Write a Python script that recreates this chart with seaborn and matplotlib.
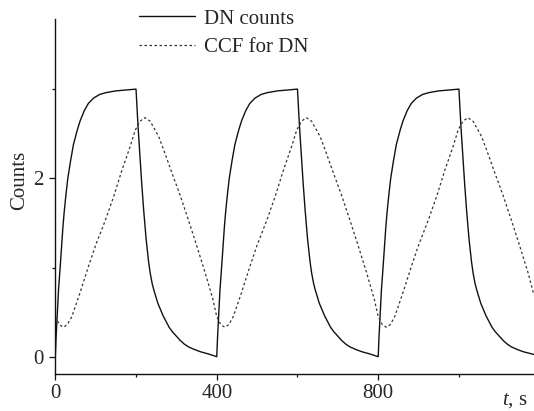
import matplotlib
matplotlib.use("Agg")
import matplotlib.pyplot as plt
import seaborn as sns
import pandas as pd
from matplotlib.ticker import FixedLocator

# DN counts (solid), three periods of 400 s
dn_t = [0, 2, 5, 8, 12, 16, 19, 22, 26, 31, 38, 45, 55, 62, 72, 82, 95, 110, 125, 150, 175,
        200, 205, 210, 214, 219, 225, 231, 235, 240, 244, 248, 254, 260, 267, 275, 282, 290, 300, 310, 320, 330, 345, 360, 380,
        400, 402, 405, 408, 412, 416, 419, 422, 426, 431, 438, 445, 455, 462, 472, 482, 495, 510, 525, 550, 575,
        600, 605, 610, 614, 619, 625, 631, 635, 640, 644, 648, 654, 660, 667, 675, 682, 690, 700, 710, 720, 730, 745, 760, 780,
        800, 802, 805, 808, 812, 816, 819, 822, 826, 831, 838, 845, 855, 862, 872, 882, 895, 910, 925, 950, 975,
        1000, 1005, 1010, 1014, 1019, 1025, 1031, 1035, 1040, 1044, 1048, 1054, 1060, 1067, 1075, 1082, 1090, 1100, 1110, 1120, 1130, 1145, 1160, 1186]
dn_v = [0.00, 0.22, 0.48, 0.75, 1.00, 1.27, 1.46, 1.62, 1.80, 2.00, 2.20, 2.38, 2.55, 2.65, 2.76, 2.84, 2.90, 2.94, 2.96, 2.98, 2.99,
        3.00, 2.58, 2.22, 1.95, 1.64, 1.32, 1.07, 0.94, 0.82, 0.75, 0.69, 0.60, 0.535, 0.46, 0.39, 0.33, 0.28, 0.23, 0.18, 0.14, 0.11, 0.08, 0.055, 0.03,
        0.00, 0.22, 0.48, 0.75, 1.00, 1.27, 1.46, 1.62, 1.80, 2.00, 2.20, 2.38, 2.55, 2.65, 2.76, 2.84, 2.90, 2.94, 2.96, 2.98, 2.99,
        3.00, 2.58, 2.22, 1.95, 1.64, 1.32, 1.07, 0.94, 0.82, 0.75, 0.69, 0.60, 0.535, 0.46, 0.39, 0.33, 0.28, 0.23, 0.18, 0.14, 0.11, 0.08, 0.055, 0.03,
        0.00, 0.22, 0.48, 0.75, 1.00, 1.27, 1.46, 1.62, 1.80, 2.00, 2.20, 2.38, 2.55, 2.65, 2.76, 2.84, 2.90, 2.94, 2.96, 2.98, 2.99,
        3.00, 2.58, 2.22, 1.95, 1.64, 1.32, 1.07, 0.94, 0.82, 0.75, 0.69, 0.60, 0.535, 0.46, 0.39, 0.33, 0.28, 0.23, 0.18, 0.14, 0.11, 0.08, 0.055, 0.025]

# CCF for DN (dotted)
ccf_t = [0, 10, 20, 30, 41, 60, 82, 100, 124, 145, 165, 185, 198, 210, 222, 235, 256, 270, 289, 310, 330, 350, 372, 390,
         400, 410, 420, 430, 441, 460, 482, 500, 524, 545, 565, 585, 598, 610, 622, 635, 656, 670, 689, 710, 730, 750, 772, 790,
         800, 810, 820, 830, 841, 860, 882, 900, 924, 945, 965, 985, 998, 1010, 1022, 1035, 1056, 1070, 1089, 1110, 1130, 1150, 1172, 1186]
ccf_v = [0.45, 0.36, 0.33, 0.36, 0.45, 0.70, 1.01, 1.25, 1.53, 1.80, 2.09, 2.35, 2.54, 2.64, 2.68, 2.64, 2.47, 2.30, 2.06, 1.80, 1.53, 1.25, 0.93, 0.65,
         0.45, 0.36, 0.33, 0.36, 0.45, 0.70, 1.01, 1.25, 1.53, 1.80, 2.09, 2.35, 2.54, 2.64, 2.68, 2.64, 2.47, 2.30, 2.06, 1.80, 1.53, 1.25, 0.93, 0.65,
         0.45, 0.36, 0.33, 0.36, 0.45, 0.70, 1.01, 1.25, 1.53, 1.80, 2.09, 2.35, 2.54, 2.64, 2.68, 2.64, 2.47, 2.30, 2.06, 1.80, 1.53, 1.25, 0.93, 0.69]

x_major = [0, 400, 800]
x_minor = [200, 600, 1000]
y_major = [0, 2]
y_minor = [1, 3]

sns.set_theme(style="ticks")
plt.rcParams['font.family'] = ['Liberation Serif', 'DejaVu Serif']
plt.rcParams['mathtext.fontset'] = 'custom'
plt.rcParams['mathtext.it'] = 'Liberation Serif:italic'
plt.rcParams['mathtext.rm'] = 'Liberation Serif'

df_dn = pd.DataFrame({'t': dn_t, 'v': dn_v})
df_ccf = pd.DataFrame({'t': ccf_t, 'v': ccf_v})

fig = plt.figure(figsize=(5.34, 4.11), dpi=100)
ax = fig.add_axes([55.3 / 534, 37 / 411, 1 - 55.3 / 534, 355 / 411])

sns.lineplot(data=df_dn, x='t', y='v', ax=ax, color='#111111', lw=1.0,
             estimator=None, sort=False, label='DN counts')
sns.lineplot(data=df_ccf, x='t', y='v', ax=ax, color='#333333', lw=0.9,
             linestyle=(0, (2.0, 2.0)), estimator=None, sort=False, label='CCF for DN')

ax.set_xlim(0, 1186)
ax.set_ylim(-0.194, 3.786)
ax.xaxis.set_major_locator(FixedLocator(x_major))
ax.xaxis.set_minor_locator(FixedLocator(x_minor))
ax.yaxis.set_major_locator(FixedLocator(y_major))
ax.yaxis.set_minor_locator(FixedLocator(y_minor))
ax.tick_params(axis='both', which='major', length=4.5, width=0.9, labelsize=15, color='#111111')
ax.tick_params(axis='both', which='minor', length=2.5, width=0.9, color='#111111')
ax.tick_params(axis='x', which='major', pad=2.5)
ax.tick_params(axis='y', which='major', pad=4)
ax.set_xlabel('')
ax.set_ylabel('')
for side in ['top', 'right']:
    ax.spines[side].set_visible(False)
for side in ['left', 'bottom']:
    ax.spines[side].set_linewidth(1.0)
    ax.spines[side].set_color('#111111')

leg = ax.legend(loc='upper left', bbox_to_anchor=(139 / 534, 1 - 9 / 411),
                bbox_transform=fig.transFigure, frameon=False, fontsize=15,
                handlelength=2.7, handletextpad=0.43, labelspacing=0.42,
                borderpad=0, borderaxespad=0)

fig.text(20 / 534, 1 - 180 / 411, 'Counts', rotation=90, ha='center', va='center', fontsize=15)
fig.text(528 / 534, 6 / 411, '$t$, s', ha='right', va='baseline', fontsize=15)

fig.savefig('out.png', dpi=100)
